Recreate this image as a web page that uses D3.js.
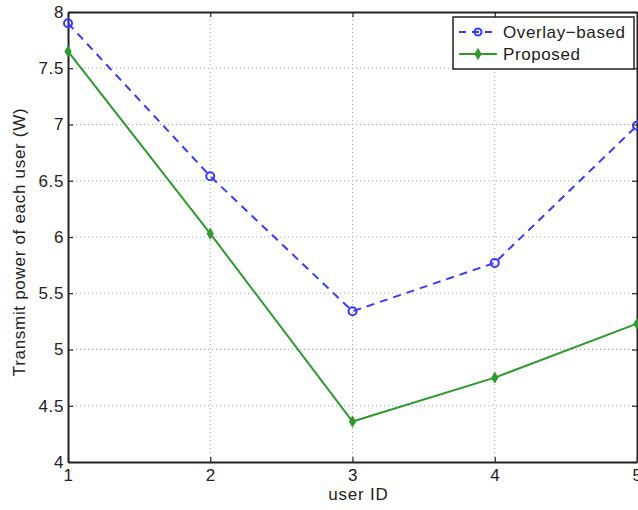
<!DOCTYPE html>
<html><head><meta charset="utf-8">
<script src="https://cdn.jsdelivr.net/npm/d3@7"></script>
<style>
html,body{margin:0;padding:0;background:#fff;}
text{font-family:"Liberation Sans",Arial,Helvetica,sans-serif;}
</style></head>
<body><svg id="c" width="638" height="510"></svg>
<script>
const users = [1, 2, 3, 4, 5];
const overlayBased = [7.9, 6.54, 5.34, 5.77, 6.99];
const proposed = [7.65, 6.03, 4.36, 4.75, 5.23];
const yTicks = [4, 4.5, 5, 5.5, 6, 6.5, 7, 7.5, 8];
const seriesNames = ["Overlay\u2212based", "Proposed"];

const svg = d3.select("#c");
const L = 68, R = 637, T = 12, B = 462;
const x = d3.scaleLinear().domain([1, 5]).range([L, R]);
const y = d3.scaleLinear().domain([4, 8]).range([B, T]);

// grid
const g = svg.append("g");
g.selectAll(".gx").data(users.slice(1, -1)).enter().append("line")
  .attr("x1", d => x(d)).attr("x2", d => x(d)).attr("y1", T).attr("y2", B)
  .attr("stroke", "#a8a8a8").attr("stroke-width", 1).attr("stroke-dasharray", "1,3");
g.selectAll(".gy").data(yTicks.slice(1, -1)).enter().append("line")
  .attr("x1", L).attr("x2", R).attr("y1", d => y(d)).attr("y2", d => y(d))
  .attr("stroke", "#a8a8a8").attr("stroke-width", 1).attr("stroke-dasharray", "1,3");

// axes
const fontSz = "17px";
const ax = svg.append("g").attr("transform", `translate(0,${B})`)
  .call(d3.axisBottom(x).tickValues(users).tickFormat(d3.format("d")).tickSizeInner(-5).tickSizeOuter(0).tickPadding(10));
const ay = svg.append("g").attr("transform", `translate(${L},0)`)
  .call(d3.axisLeft(y).tickValues(yTicks).tickFormat(d => String(d)).tickSizeInner(-5).tickSizeOuter(0).tickPadding(4));
const axTop = svg.append("g").attr("transform", `translate(0,${T})`)
  .call(d3.axisTop(x).tickValues(users).tickFormat("").tickSizeInner(-5).tickSizeOuter(0));
const ayR = svg.append("g").attr("transform", `translate(${R},0)`)
  .call(d3.axisRight(y).tickValues(yTicks).tickFormat("").tickSizeInner(-5).tickSizeOuter(0));
[ax, ay, axTop, ayR].forEach(a => {
  a.select(".domain").attr("stroke", "#222").attr("stroke-width", 2);
  a.selectAll(".tick line").attr("stroke", "#222").attr("stroke-width", 1.2);
  a.selectAll(".tick text").attr("fill", "#222").style("font-size", fontSz)
    .style("letter-spacing", "0.6px").style("font-family", '"Liberation Sans",Arial,sans-serif');
});
ax.selectAll(".tick text").attr("dy", "0.5em");

// labels
svg.append("text").attr("x", (L + R) / 2 + 6).attr("y", 500).attr("text-anchor", "middle")
  .attr("fill", "#222").style("font-size", fontSz).style("letter-spacing", "0.8px").text("user ID");
svg.append("text").attr("transform", `translate(25,${(T + B) / 2 + 5}) rotate(-90)`)
  .attr("text-anchor", "middle").attr("fill", "#222").style("font-size", fontSz)
  .style("letter-spacing", "0.7px").text("Transmit power of each user (W)");

// series
const blue = "#3a3aff", green = "#2e9a2e";
const line = d3.line().x((d, i) => x(users[i])).y(d => y(d));
svg.append("path").datum(overlayBased).attr("d", line).attr("fill", "none")
  .attr("stroke", blue).attr("stroke-width", 2).attr("stroke-dasharray", "8,6");
svg.append("path").datum(proposed).attr("d", line).attr("fill", "none")
  .attr("stroke", green).attr("stroke-width", 2);
svg.selectAll(".mb").data(overlayBased).enter().append("circle")
  .attr("cx", (d, i) => x(users[i])).attr("cy", d => y(d)).attr("r", 4)
  .attr("fill", "none").attr("stroke", blue).attr("stroke-width", 2);
const diamond = d3.symbol().type(d3.symbolDiamond).size(26);
svg.selectAll(".mg").data(proposed).enter().append("path")
  .attr("d", diamond).attr("transform", (d, i) => `translate(${x(users[i])},${y(d)})`)
  .attr("fill", green).attr("stroke", green).attr("stroke-width", 1.5);

// legend
const lg = svg.append("g");
lg.append("rect").attr("x", 453).attr("y", 17).attr("width", 181).attr("height", 52)
  .attr("fill", "#fff").attr("stroke", "#222").attr("stroke-width", 1.5);
const ly = [32, 54];
lg.append("line").attr("x1", 459).attr("x2", 497).attr("y1", ly[0]).attr("y2", ly[0])
  .attr("stroke", blue).attr("stroke-width", 2).attr("stroke-dasharray", "7,6");
lg.append("circle").attr("cx", 478).attr("cy", ly[0]).attr("r", 3.5)
  .attr("fill", "none").attr("stroke", blue).attr("stroke-width", 2);
lg.append("line").attr("x1", 459).attr("x2", 497).attr("y1", ly[1]).attr("y2", ly[1])
  .attr("stroke", green).attr("stroke-width", 2);
lg.append("path").attr("d", diamond).attr("transform", `translate(478,${ly[1]})`)
  .attr("fill", green).attr("stroke", green).attr("stroke-width", 1.5);
lg.selectAll(".lt").data(seriesNames).enter().append("text")
  .attr("x", 503).attr("y", (d, i) => ly[i] + 6).attr("fill", "#222")
  .style("font-size", fontSz).style("letter-spacing", "0.6px").text(d => d);
</script></body></html>
